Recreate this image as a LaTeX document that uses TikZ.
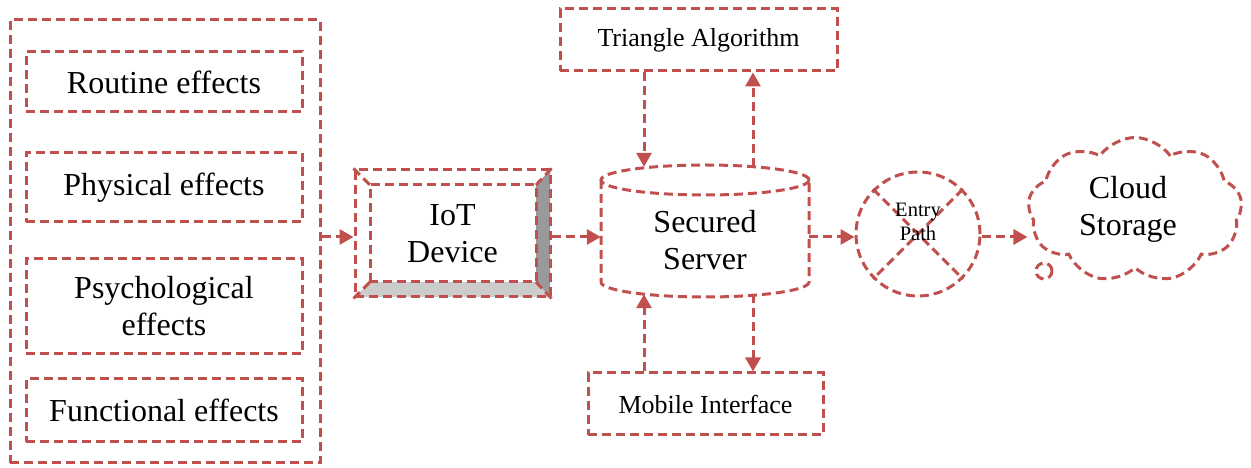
\documentclass[tikz,border=0pt]{standalone}
\usepackage{fontspec}
\setmainfont{Liberation Serif}
\usetikzlibrary{arrows.meta,shapes.symbols}
\definecolor{accent}{HTML}{C0504D}
\begin{document}
\begin{tikzpicture}[x=1pt,y=1pt,
  dline/.style={draw=accent, line width=3pt, dash pattern=on 9pt off 5pt},
  box/.style={dline, rectangle, inner sep=0pt, align=center},
  big/.style={font=\fontsize{32}{37}\selectfont},
  midf/.style={font=\fontsize{26}{30}\selectfont},
  smallf/.style={font=\fontsize{20.5}{24}\selectfont},
  arr/.style={dline, -{Triangle[length=14pt,width=15pt]}},
]
\useasboundingbox (0,0) rectangle (1251,468);

% effect group
\node[box, minimum width=310, minimum height=443] (grp) at (165,226.5) {};
\node[box, big, minimum width=276, minimum height=60] (rout) at (164,386) {Routine effects};
\node[box, big, minimum width=276, minimum height=69] (phys) at (164,280.5) {Physical effects};
\node[box, big, minimum width=276, minimum height=95] (psy) at (164,161.5) {Psychological\\effects};
\node[box, big, minimum width=276, minimum height=63] (func) at (164,57.5) {Functional effects};

% IoT device (bevelled box)
\fill[gray!80] (536,283) -- (550,298) -- (550,171) -- (536,186) -- cycle;
\fill[gray!40] (370,186) -- (536,186) -- (550,171) -- (355,171) -- cycle;
\node[box, big, minimum width=195, minimum height=127] (iot) at (452.5,234.5) {IoT\\Device};
\draw[dline] (370,186) rectangle (536,283);
\draw[dline] (iot.north west) -- (370,283);
\draw[dline] (iot.north east) -- (536,283);
\draw[dline] (iot.south west) -- (370,186);
\draw[dline] (iot.south east) -- (536,186);

% secured server (cylinder)
\node[minimum width=208, minimum height=132, inner sep=0pt] (srv) at (705,237) {};
\draw[dline] (705,288) ellipse[x radius=104, y radius=15];
\draw[dline] (601,288) -- (601,186) arc[start angle=180, end angle=360, x radius=104, y radius=15] -- (809,288);
\node[big, align=center] (srvtxt) at (705,228) {Secured\\Server};

% side boxes
\node[box, midf, minimum width=277, minimum height=62] (tri) at (698.5,428) {Triangle Algorithm};
\node[box, midf, minimum width=235, minimum height=62] (mob) at (705.5,64) {Mobile Interface};

% entry path
\node[circle, dline, minimum size=124, inner sep=0pt] (ent) at (918,234) {};
\draw[dline] (ent.45) -- (ent.225);
\draw[dline] (ent.135) -- (ent.315);
\node[smallf, align=center] (enttxt) at (918,246) {Entry\\Path};

% cloud storage
\node[cloud, dline, cloud puffs=9, cloud puff arc=110, aspect=1.5, minimum width=214, minimum height=145, inner sep=0pt] (cld) at (1135,258) {};
\node[circle, dline, minimum size=16, inner sep=0pt] (bub) at (1044,197) {};
\node[big, align=center] (cldtxt) at (1128,259) {Cloud\\Storage};

% connectors
\coordinate (fl) at (0,231);
\coordinate (xl) at (644,0);
\coordinate (xr) at (753,0);
\draw[arr] (grp.east |- fl) -- (iot.west |- fl);
\draw[arr] (iot.east |- fl) -- (srv.west |- fl);
\draw[arr] (srv.east |- fl) -- (ent.west |- fl);
\draw[arr] (ent.east |- fl) -- (cld.west |- fl);
\draw[arr] (xl |- tri.south) -- ([yshift=-2pt]xl |- srv.north);
\draw[arr] ([yshift=-2pt]xr |- srv.north) -- (xr |- tri.south);
\draw[arr] (xl |- mob.north) -- ([yshift=3pt]xl |- srv.south);
\draw[arr] ([yshift=3pt]xr |- srv.south) -- (xr |- mob.north);
\end{tikzpicture}
\end{document}
